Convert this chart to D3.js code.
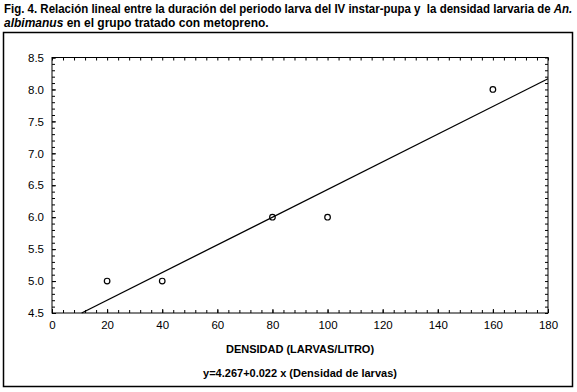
<!DOCTYPE html>
<html>
<head>
    <meta charset="utf-8">
    <style>
        body { margin: 0; background: #fff; }
        text { font-family: "Liberation Sans", Arial, sans-serif; fill: #000; }
    </style>
</head>
<body>
    <svg width="577" height="392"></svg>
    <script src="https://d3js.org/d3.v7.min.js"></script>
    <script>
        // densidad (larvas/litro) and duracion (dias)
        let densidad = [20, 40, 80, 100, 160];
        let duracion = [5, 5, 6, 6, 8];
        let xTicks = [0, 20, 40, 60, 80, 100, 120, 140, 160, 180];
        let yTicks = [4.5, 5.0, 5.5, 6.0, 6.5, 7.0, 7.5, 8.0, 8.5];

        let svg = d3.select("svg");
        let pLeft = 52, pRight = 548, pTop = 57.5, pBottom = 313;

        let x = d3.scaleLinear().domain([0, 180]).range([pLeft, pRight]);
        let y = d3.scaleLinear().domain([4.5, 8.5]).range([pBottom, pTop]);

        // outer frame
        svg.append("rect")
            .attr("x", 3.5).attr("y", 32.5)
            .attr("width", 569).attr("height", 354)
            .attr("fill", "none").attr("stroke", "#000").attr("stroke-width", 1.5);

        // title; first line squeezed horizontally to fit the width
        let l1 = svg.append("text").attr("x", 0).attr("y", 0)
            .attr("font-size", 12).attr("font-weight", "bold")
            .attr("xml:space", "preserve");
        l1.append("tspan").text("Fig. 4. Relación lineal entre la duración del periodo larva del IV instar-pupa y  la densidad larvaria de ");
        l1.append("tspan").attr("font-style", "italic").text("An.");
        let w1 = l1.node().getComputedTextLength();
        l1.attr("transform", `translate(4,13) scale(${569 / w1},1)`);

        let l2 = svg.append("text").attr("x", 4).attr("y", 27)
            .attr("font-size", 12).attr("font-weight", "bold");
        l2.append("tspan").attr("font-style", "italic").text("albimanus");
        l2.append("tspan").text(" en el grupo tratado con metopreno.");

        // minor ticks on all sides, pointing inward
        let xMinor = d3.range(0, 181, 4);
        let yMinor = d3.range(45, 86).map(d => d / 10);
        function minor(axis, tr) {
            svg.append("g").attr("transform", tr)
                .call(axis.tickFormat("").tickSizeOuter(0))
                .call(g => g.select(".domain").remove())
                .selectAll("line").attr("stroke", "#000");
        }
        minor(d3.axisBottom(x).tickValues(xMinor).tickSize(-3), `translate(0,${pBottom})`);
        minor(d3.axisTop(x).tickValues(xMinor).tickSize(-3), `translate(0,${pTop})`);
        minor(d3.axisLeft(y).tickValues(yMinor).tickSize(-3), `translate(${pLeft},0)`);
        minor(d3.axisRight(y).tickValues(yMinor).tickSize(-3), `translate(${pRight},0)`);

        // major axes with labels
        let xAxis = svg.append("g").attr("transform", `translate(0,${pBottom})`)
            .call(d3.axisBottom(x).tickValues(xTicks).tickSize(-4).tickSizeOuter(0).tickPadding(8));
        xAxis.select(".domain").remove();
        xAxis.selectAll("text").attr("font-size", 11.5).attr("font-family", "Liberation Sans, Arial, sans-serif");

        let yAxis = svg.append("g").attr("transform", `translate(${pLeft},0)`)
            .call(d3.axisLeft(y).tickValues(yTicks).tickFormat(d3.format(".1f")).tickSize(-4).tickSizeOuter(0).tickPadding(8));
        yAxis.select(".domain").remove();
        yAxis.selectAll("text").attr("font-size", 11.5).attr("font-family", "Liberation Sans, Arial, sans-serif");

        // plot frame
        svg.append("rect")
            .attr("x", pLeft).attr("y", pTop)
            .attr("width", pRight - pLeft).attr("height", pBottom - pTop)
            .attr("fill", "none").attr("stroke", "#000").attr("stroke-width", 1);

        // least squares fit
        let mx = d3.mean(densidad), my = d3.mean(duracion);
        let sxy = d3.sum(densidad, (d, i) => (d - mx) * (duracion[i] - my));
        let sxx = d3.sum(densidad, d => (d - mx) * (d - mx));
        let slope = sxy / sxx, intercept = my - slope * mx;
        let x0 = (4.5 - intercept) / slope;
        svg.append("line")
            .attr("x1", x(x0)).attr("y1", y(4.5))
            .attr("x2", x(180)).attr("y2", y(intercept + slope * 180))
            .attr("stroke", "#000").attr("stroke-width", 1.3);

        svg.selectAll("circle.pt").data(densidad).enter()
            .append("circle").attr("class", "pt")
            .attr("cx", d => x(d))
            .attr("cy", (d, i) => y(duracion[i]))
            .attr("r", 2.8)
            .attr("fill", "none").attr("stroke", "#000").attr("stroke-width", 1.2);

        // labels
        svg.append("text").attr("x", (pLeft + pRight) / 2).attr("y", 353)
            .attr("text-anchor", "middle").attr("font-size", 11).attr("font-weight", "bold")
            .text("DENSIDAD (LARVAS/LITRO)");
        svg.append("text").attr("x", (pLeft + pRight) / 2).attr("y", 377)
            .attr("text-anchor", "middle").attr("font-size", 11).attr("font-weight", "bold")
            .text("y=4.267+0.022 x (Densidad de larvas)");
    </script>
</body>
</html>
